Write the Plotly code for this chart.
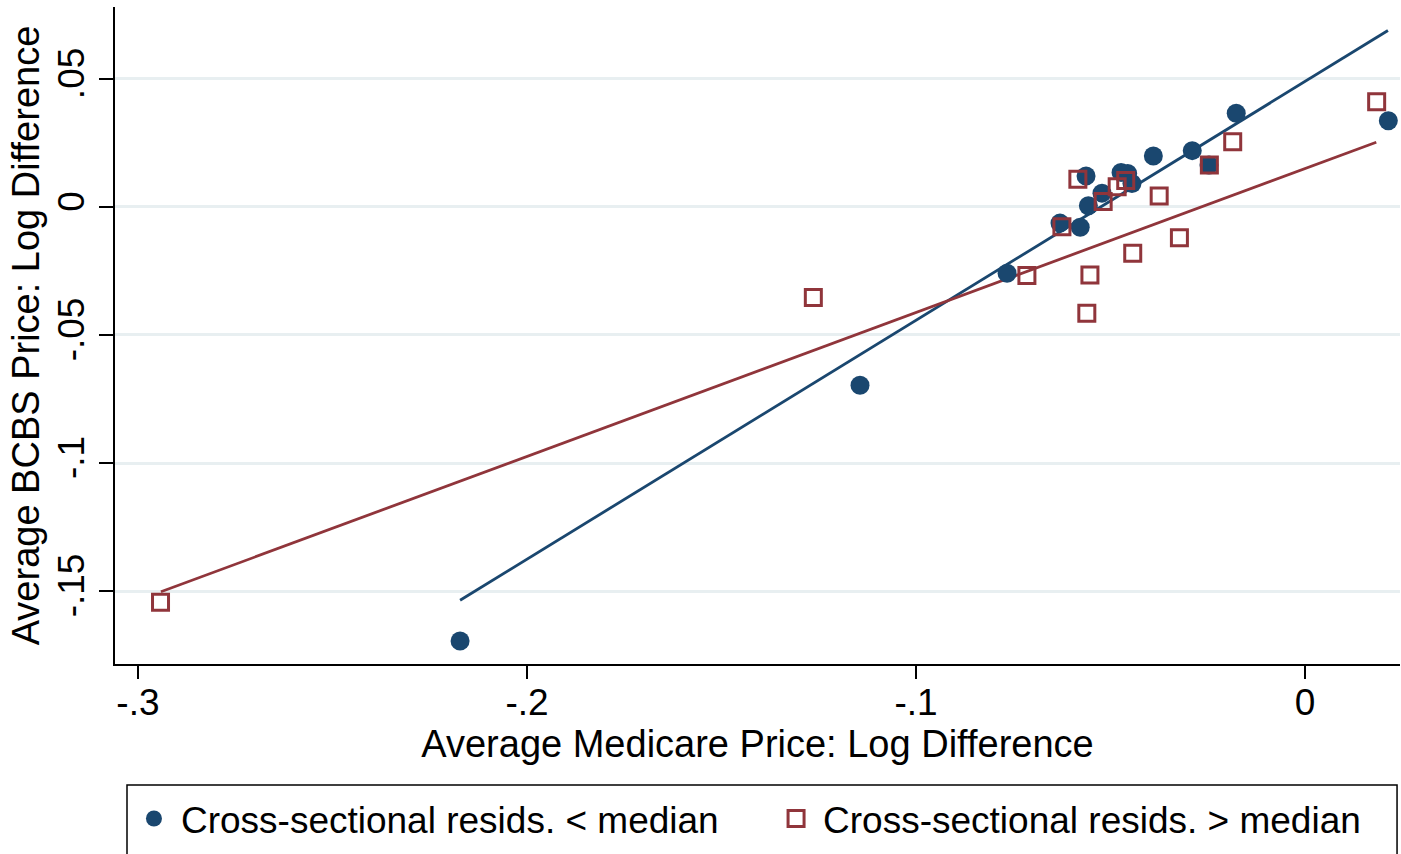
import plotly.graph_objects as go

# Data
below_x = [-0.2172, -0.1144, -0.0766, -0.0630, -0.0578, -0.0563, -0.0557, -0.0522,
           -0.0473, -0.0456, -0.0445, -0.0390, -0.0290, -0.0247, -0.0177, 0.0214]
below_y = [-0.1695, -0.0696, -0.0259, -0.0063, -0.0079, 0.0121, 0.0005, 0.0054,
           0.0135, 0.0131, 0.0092, 0.0199, 0.0220, 0.0164, 0.0366, 0.0337]

above_x = [-0.2942, -0.1264, -0.0715, -0.0625, -0.0584, -0.0561, -0.0553, -0.0519,
           -0.0483, -0.0461, -0.0443, -0.0375, -0.0323, -0.0246, -0.0186, 0.0184]
above_y = [-0.1544, -0.0354, -0.0268, -0.0077, 0.0108, -0.0415, -0.0266, 0.0021,
           0.0079, 0.0103, -0.0181, 0.0043, -0.0120, 0.0164, 0.0255, 0.0411]

# Linear fit lines (endpoints)
fit_below_x = [-0.2172, 0.0213]
fit_below_y = [-0.1536, 0.0689]
fit_above_x = [-0.2941, 0.0183]
fit_above_y = [-0.1503, 0.0253]

x_ticks = [-0.3, -0.2, -0.1, 0]
x_tick_labels = ["-.3", "-.2", "-.1", "0"]
y_ticks = [-0.15, -0.1, -0.05, 0, 0.05]
y_tick_labels = ["-.15", "-.1", "-.05", "0", ".05"]

NAVY = "#1a476f"
MAROON = "#90353b"
FONT = "Liberation Sans, Arial, sans-serif"

fig = go.Figure()
fig.add_trace(go.Scatter(x=fit_below_x, y=fit_below_y, mode="lines",
                         line=dict(color=NAVY, width=2.8), showlegend=False, hoverinfo="skip"))
fig.add_trace(go.Scatter(x=fit_above_x, y=fit_above_y, mode="lines",
                         line=dict(color=MAROON, width=2.8), showlegend=False, hoverinfo="skip"))
fig.add_trace(go.Scatter(x=below_x, y=below_y, mode="markers",
                         name="Cross-sectional resids. < median", legend="legend",
                         marker=dict(symbol="circle", size=19, color=NAVY, line=dict(width=0))))
fig.add_trace(go.Scatter(x=above_x, y=above_y, mode="markers",
                         name="Cross-sectional resids. > median", legend="legend2",
                         marker=dict(symbol="square-open", size=16, color=MAROON,
                                     line=dict(width=3, color=MAROON))))

legend_common = dict(orientation="h", xanchor="left", yanchor="top", y=-0.1887,
                     borderwidth=0, font=dict(size=37, family=FONT, color="black"),
                     itemsizing="trace", itemwidth=44, bgcolor="rgba(0,0,0,0)",
                     valign="middle")

title_font = dict(size=38, family=FONT, color="black")
tick_font = dict(size=37, family=FONT, color="black")

fig.update_layout(
    width=1401, height=854,
    margin=dict(l=115, r=1, t=7, b=190, autoexpand=False),
    paper_bgcolor="white", plot_bgcolor="white",
    font=dict(family=FONT, size=32, color="black"),
    legend=dict(x=0.0093, **legend_common),
    legend2=dict(x=0.509, **legend_common),
    xaxis=dict(range=[-0.3059, 0.0244], tickvals=x_ticks, ticktext=x_tick_labels,
               showgrid=False, zeroline=False, showline=True, linecolor="black", linewidth=2,
               ticks="outside", ticklen=13, tickwidth=2, tickcolor="black",
               ticklabelstandoff=-8,
               title=dict(text="Average Medicare Price: Log Difference", standoff=2,
                          font=title_font),
               tickfont=tick_font),
    yaxis=dict(range=[-0.1785, 0.0781], tickvals=y_ticks, ticktext=y_tick_labels,
               showgrid=True, gridcolor="#e8eff1", gridwidth=2.5, zeroline=False,
               showline=True, linecolor="black", linewidth=2,
               ticks="outside", ticklen=14, tickwidth=2, tickcolor="black",
               tickangle=-90, tickfont=tick_font,
               title=dict(text="Average BCBS Price: Log Difference", standoff=0,
                          font=title_font)),
    shapes=[dict(type="rect", xref="paper", yref="paper",
                 x0=0.00934, x1=0.9977, y0=-0.18417, y1=-0.32,
                 line=dict(color="black", width=1.5), fillcolor="rgba(0,0,0,0)", layer="below")],
)

fig.write_html("out.html")
